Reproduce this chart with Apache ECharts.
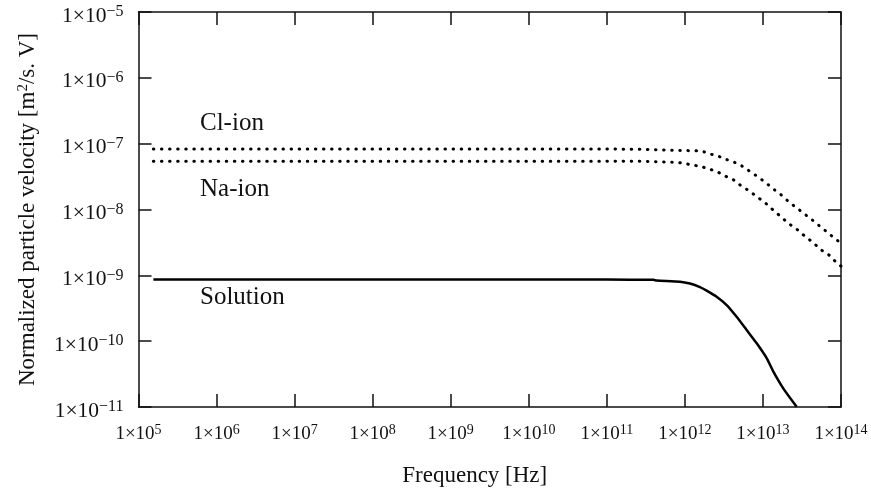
<!DOCTYPE html>
<html><head><meta charset="utf-8">
<script src="https://cdn.jsdelivr.net/npm/echarts@6/dist/echarts.min.js"></script>
<style>html,body{margin:0;padding:0;background:#fff}#c{width:871px;height:494px}</style>
</head><body><div id="c"></div>
<script>
// Frequency [Hz] and normalized particle velocity [m2/s.V]
const clFreq = [1.55e5, 1e6, 1e7, 1e8, 1e9, 1e10, 1e11, 2.66e11, 1.64e12, 2.09e12, 2.60e12, 3.36e12, 4.17e12, 5.33e12, 6.68e12, 8.45e12, 1.07e13, 1.36e13, 1.72e13, 2.17e13, 2.70e13, 3.45e13, 4.34e13, 5.53e13, 7.01e13, 8.95e13, 1e14];
const clVel  = [8.3e-8, 8.3e-8, 8.3e-8, 8.3e-8, 8.3e-8, 8.3e-8, 8.3e-8, 8.2e-8, 7.74e-8, 6.97e-8, 6.56e-8, 5.78e-8, 5.32e-8, 4.62e-8, 3.85e-8, 3.19e-8, 2.59e-8, 2.05e-8, 1.66e-8, 1.29e-8, 1.06e-8, 8.45e-9, 6.85e-9, 5.42e-9, 4.29e-9, 3.40e-9, 3.09e-9];

const naFreq = [1.55e5, 1e6, 1e7, 1e8, 1e9, 1e10, 1e11, 2.66e11, 7.98e11, 1.28e12, 1.64e12, 2.05e12, 2.60e12, 3.33e12, 4.17e12, 5.22e12, 6.68e12, 8.45e12, 1.07e13, 1.36e13, 1.70e13, 2.15e13, 2.70e13, 3.45e13, 4.34e13, 5.53e13, 7.01e13, 8.95e13, 1e14];
const naVel  = [5.42e-8, 5.42e-8, 5.42e-8, 5.42e-8, 5.42e-8, 5.42e-8, 5.42e-8, 5.40e-8, 5.21e-8, 4.74e-8, 4.47e-8, 4.12e-8, 3.75e-8, 3.19e-8, 2.84e-8, 2.30e-8, 1.91e-8, 1.55e-8, 1.26e-8, 9.72e-9, 7.76e-9, 6.08e-9, 5.05e-9, 3.92e-9, 3.18e-9, 2.45e-9, 2.04e-9, 1.52e-9, 1.38e-9];

const solFreq = [1.55e5, 1e6, 1e7, 1e8, 1e9, 1e10, 1e11, 3.94e11, 4.35e11, 8.65e11, 1.16e12, 1.56e12, 1.90e12, 2.55e12, 3.43e12, 4.60e12, 6.18e12, 8.32e12, 1.12e13, 1.36e13, 1.82e13, 2.70e13];
const solVel  = [8.61e-10, 8.61e-10, 8.61e-10, 8.61e-10, 8.61e-10, 8.61e-10, 8.61e-10, 8.55e-10, 8.35e-10, 8.00e-10, 7.50e-10, 6.64e-10, 5.87e-10, 4.73e-10, 3.54e-10, 2.35e-10, 1.48e-10, 9.27e-11, 5.48e-11, 3.44e-11, 1.92e-11, 1.01e-11];

const xTickMin = 1e5, xTickMax = 1e14;
const yTickMin = 1e-11, yTickMax = 1e-5;

const seriesNames = ['Cl-ion', 'Na-ion', 'Solution'];
const xTitle = 'Frequency [Hz]';
const yTitleParts = ['Normalized particle velocity [m', '2', '/s. V]'];

const FONT = '"Liberation Serif", "Times New Roman", serif';
const INK = '#111';

function zip(a, b) { return a.map((v, i) => [v, b[i]]); }
function powLabel(value) {
  const e = Math.round(Math.log10(value));
  const s = e < 0 ? '\u2212' + (-e) : String(e);
  return '{b|1\u00d710}{s|' + s + '}';
}
const xLabelRich = {
  b: { fontFamily: FONT, fontSize: 19, color: INK, verticalAlign: 'bottom' },
  s: { fontFamily: FONT, fontSize: 14, color: INK, lineHeight: 28 }
};
const yLabelRich = {
  b: { fontFamily: FONT, fontSize: 21.5, color: INK, verticalAlign: 'bottom' },
  s: { fontFamily: FONT, fontSize: 16, color: INK, lineHeight: 30 }
};
const axisLineStyle = { show: true, lineStyle: { color: INK, width: 1.5 } };
const tickStyle = { show: true, inside: true, length: 13, lineStyle: { color: INK, width: 1.5 } };

const chart = echarts.init(document.getElementById('c'), null, { renderer: 'canvas' });
chart.setOption({
  animation: false,
  backgroundColor: '#fff',
  grid: { left: 138.5, right: 30, top: 12, bottom: 87, containLabel: false },
  xAxis: [
    {
      type: 'log', logBase: 10, min: xTickMin, max: xTickMax, interval: 1, position: 'bottom',
      axisLine: axisLineStyle, axisTick: tickStyle, splitLine: { show: false }, minorTick: { show: false },
      axisLabel: { formatter: powLabel, margin: 9, rich: xLabelRich },
      name: xTitle, nameLocation: 'middle', nameGap: 57,
      nameTextStyle: { fontFamily: FONT, fontSize: 23, color: INK, padding: [0, 30, 0, 0] }
    },
    {
      type: 'log', logBase: 10, min: xTickMin, max: xTickMax, interval: 1, position: 'top',
      axisLine: axisLineStyle, axisTick: tickStyle, splitLine: { show: false },
      axisLabel: { show: false }
    }
  ],
  yAxis: [
    {
      type: 'log', logBase: 10, min: yTickMin, max: yTickMax, interval: 1, position: 'left',
      axisLine: axisLineStyle, axisTick: tickStyle, splitLine: { show: false },
      axisLabel: { formatter: powLabel, margin: 15, rich: yLabelRich },
      name: '{b|' + yTitleParts[0] + '}{s|' + yTitleParts[1] + '}{b|' + yTitleParts[2] + '}',
      nameLocation: 'middle', nameGap: 99, nameRotate: 90,
      nameTextStyle: {
        fontFamily: FONT, fontSize: 23, color: INK,
        rich: {
          b: { fontFamily: FONT, fontSize: 23, color: INK, verticalAlign: 'bottom' },
          s: { fontFamily: FONT, fontSize: 15, color: INK, lineHeight: 32 }
        }
      }
    },
    {
      type: 'log', logBase: 10, min: yTickMin, max: yTickMax, interval: 1, position: 'right',
      axisLine: axisLineStyle, axisTick: tickStyle, splitLine: { show: false },
      axisLabel: { show: false }
    }
  ],
  series: [
    {
      name: seriesNames[0], type: 'line', xAxisIndex: 0, yAxisIndex: 0, data: zip(clFreq, clVel),
      showSymbol: false, symbol: 'none', smooth: false,
      lineStyle: { color: '#000', width: 3, type: [0.5, 7.6], cap: 'round' }
    },
    {
      name: seriesNames[1], type: 'line', xAxisIndex: 0, yAxisIndex: 0, data: zip(naFreq, naVel),
      showSymbol: false, symbol: 'none', smooth: false,
      lineStyle: { color: '#000', width: 3, type: [0.5, 7.6], cap: 'round' }
    },
    {
      name: seriesNames[2], type: 'line', xAxisIndex: 0, yAxisIndex: 0, data: zip(solFreq, solVel),
      showSymbol: false, symbol: 'none', smooth: 0.2,
      lineStyle: { color: '#000', width: 2.5, type: 'solid' }
    }
  ],
  graphic: [
    { type: 'text', left: 200, top: 111, style: { text: seriesNames[0], font: '25px ' + FONT, fill: INK } },
    { type: 'text', left: 200, top: 177, style: { text: seriesNames[1], font: '25px ' + FONT, fill: INK } },
    { type: 'text', left: 200, top: 285, style: { text: seriesNames[2], font: '25px ' + FONT, fill: INK } }
  ]
});
</script>
</body></html>
